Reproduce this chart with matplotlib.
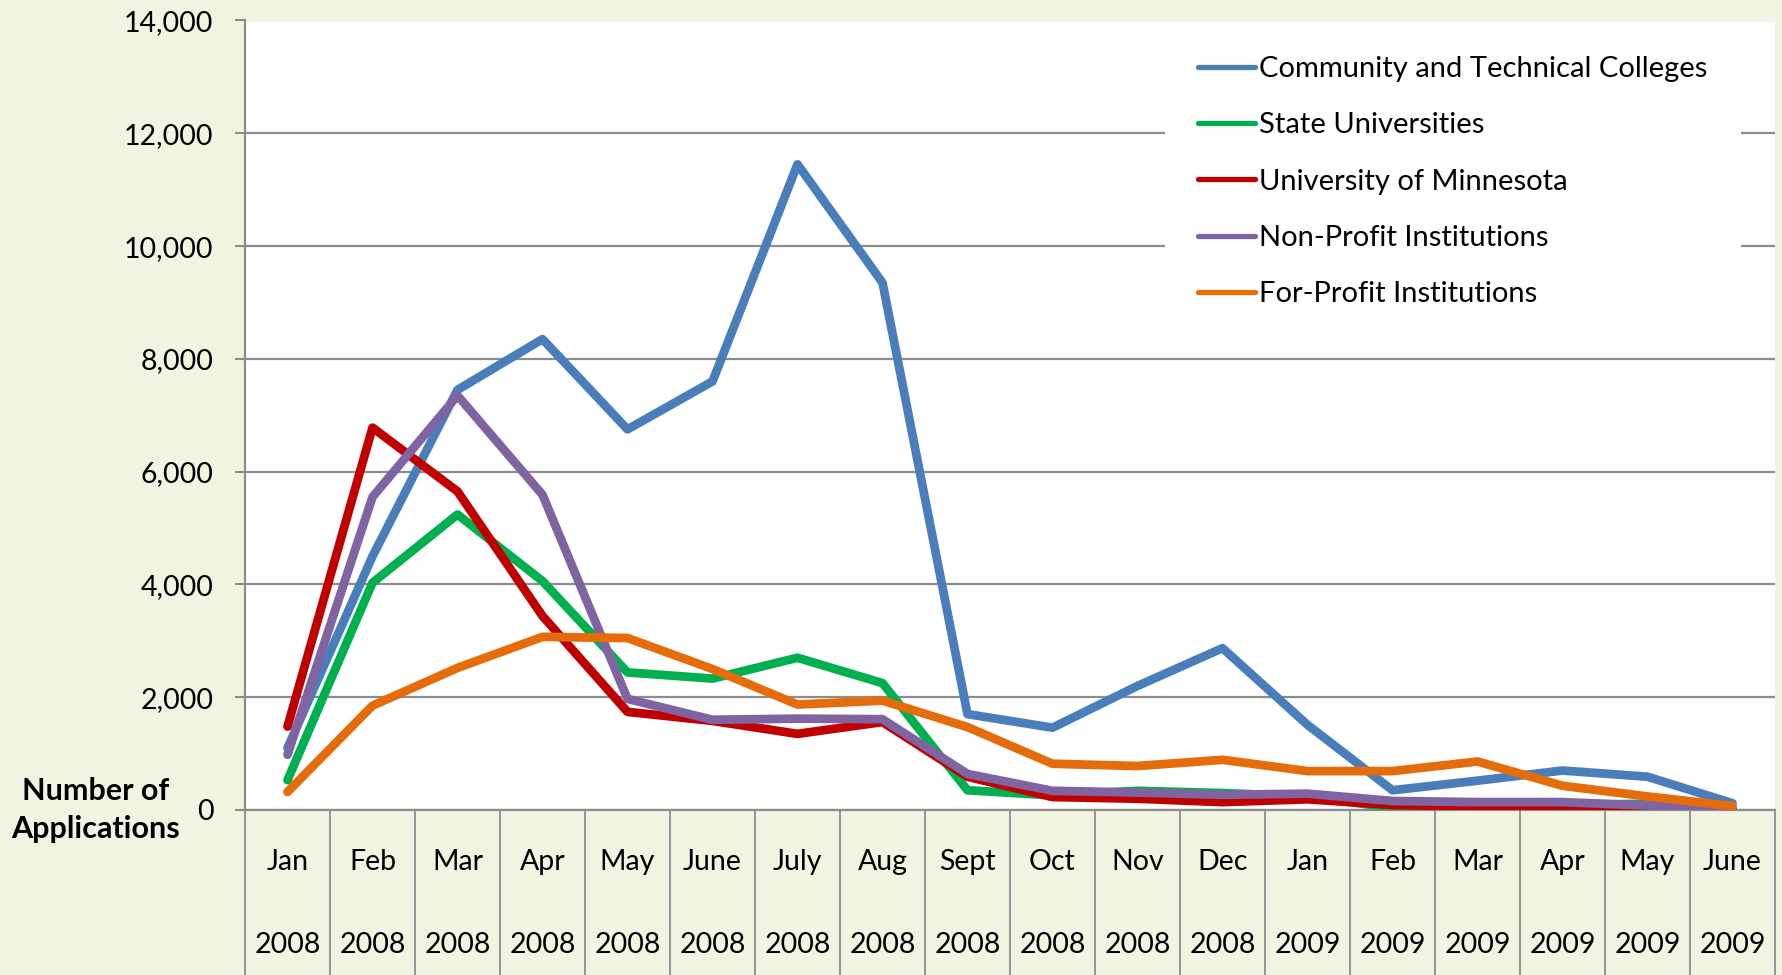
import matplotlib
matplotlib.use('Agg')
import matplotlib.pyplot as plt
from matplotlib import transforms
from matplotlib.patches import Rectangle

plt.rcParams['font.family'] = ['Lato', 'DejaVu Sans']

months = ['Jan', 'Feb', 'Mar', 'Apr', 'May', 'June', 'July', 'Aug', 'Sept', 'Oct', 'Nov', 'Dec',
          'Jan', 'Feb', 'Mar', 'Apr', 'May', 'June']
years = ['2008', '2008', '2008', '2008', '2008', '2008', '2008', '2008', '2008', '2008', '2008', '2008',
         '2009', '2009', '2009', '2009', '2009', '2009']

ctc = [1100, 4500, 7450, 8350, 6750, 7600, 11450, 9350, 1700, 1460, 2200, 2870, 1510, 350, 520, 700, 590, 120]
state = [530, 4030, 5240, 4060, 2440, 2330, 2700, 2250, 350, 260, 340, 300, 240, 40, 60, 90, 110, 20]
umn = [1480, 6780, 5650, 3440, 1740, 1580, 1350, 1560, 590, 230, 200, 140, 190, 90, 60, 30, 10, 5]
nonprofit = [980, 5550, 7350, 5590, 1970, 1600, 1620, 1610, 640, 340, 310, 270, 290, 160, 140, 140, 80, 30]
forprofit = [320, 1850, 2520, 3070, 3050, 2500, 1870, 1940, 1470, 820, 780, 890, 690, 690, 860, 430, 240, 70]

series_names = ['Community and Technical Colleges', 'State Universities', 'University of Minnesota',
                'Non-Profit Institutions', 'For-Profit Institutions']
series_colors = ['#4A7EBB', '#00B050', '#C00000', '#8064A2', '#E46C0A']

W, H = 1783, 975
bg = '#F3F3E2'
grid_c = '#8C8C8C'
fs = 20.5
fs_leg = 21

fig = plt.figure(figsize=(W / 100, H / 100), dpi=100, facecolor=bg)
left, right, top, bottom = 245, 1775, 20.5, 810
ax = fig.add_axes([left / W, 1 - bottom / H, (right - left) / W, (bottom - top) / H])
ax.set_facecolor('white')

x = list(range(len(months)))
for vals, name, c in zip([ctc, state, umn, nonprofit, forprofit], series_names, series_colors):
    ax.plot(x, vals, color=c, lw=6.3, label=name, solid_joinstyle='round', solid_capstyle='round', zorder=3)

ax.set_xlim(-0.5, len(months) - 0.5)
ax.set_ylim(0, 14000)
ax.set_yticks(range(0, 14001, 2000))
ax.set_yticklabels([f'{v:,}' for v in range(0, 14001, 2000)], fontsize=fs)
ax.tick_params(axis='y', length=7.2, width=1.5, color=grid_c, pad=15.5)
ax.set_xticks([])
ax.yaxis.grid(True, color=grid_c, lw=1.6)
ax.set_axisbelow(True)
for s in ['top', 'right']:
    ax.spines[s].set_visible(False)
for s in ['left', 'bottom']:
    ax.spines[s].set_color(grid_c)
    ax.spines[s].set_linewidth(1.6)

# white patch behind legend, covering gridlines
ax.add_patch(Rectangle((1165 / W, 1 - 330 / H), (1741 - 1165) / W, (330 - 28) / H,
                       transform=fig.transFigure, facecolor='white', edgecolor='none', zorder=1))

leg = ax.legend(loc='center left', bbox_to_anchor=(1198 / W, 1 - 181.6 / H), bbox_transform=fig.transFigure,
                frameon=False, fontsize=fs_leg, handlelength=1.95, handletextpad=0.14, labelspacing=1.04,
                borderpad=0, borderaxespad=0)
for ln in leg.get_lines():
    ln.set_linewidth(3.8)

# category labels under the axis
tr = transforms.blended_transform_factory(ax.transData, fig.transFigure)
for i, (m, y) in enumerate(zip(months, years)):
    ax.text(i, 1 - 862 / H, m, transform=tr, ha='center', va='center', fontsize=fs, clip_on=False)
    ax.text(i, 1 - 945 / H, y, transform=tr, ha='center', va='center', fontsize=fs, clip_on=False)
ax.vlines([i - 0.5 for i in range(len(months) + 1)], 0, 1 - bottom / H, transform=tr,
          color=grid_c, lw=1.3, clip_on=False)

fig.text(96 / W, 1 - 810 / H, 'Number of\nApplications', ha='center', va='center',
         fontsize=22, fontweight='bold', linespacing=1.4)

fig.savefig('out.png', dpi=100, facecolor=bg)
